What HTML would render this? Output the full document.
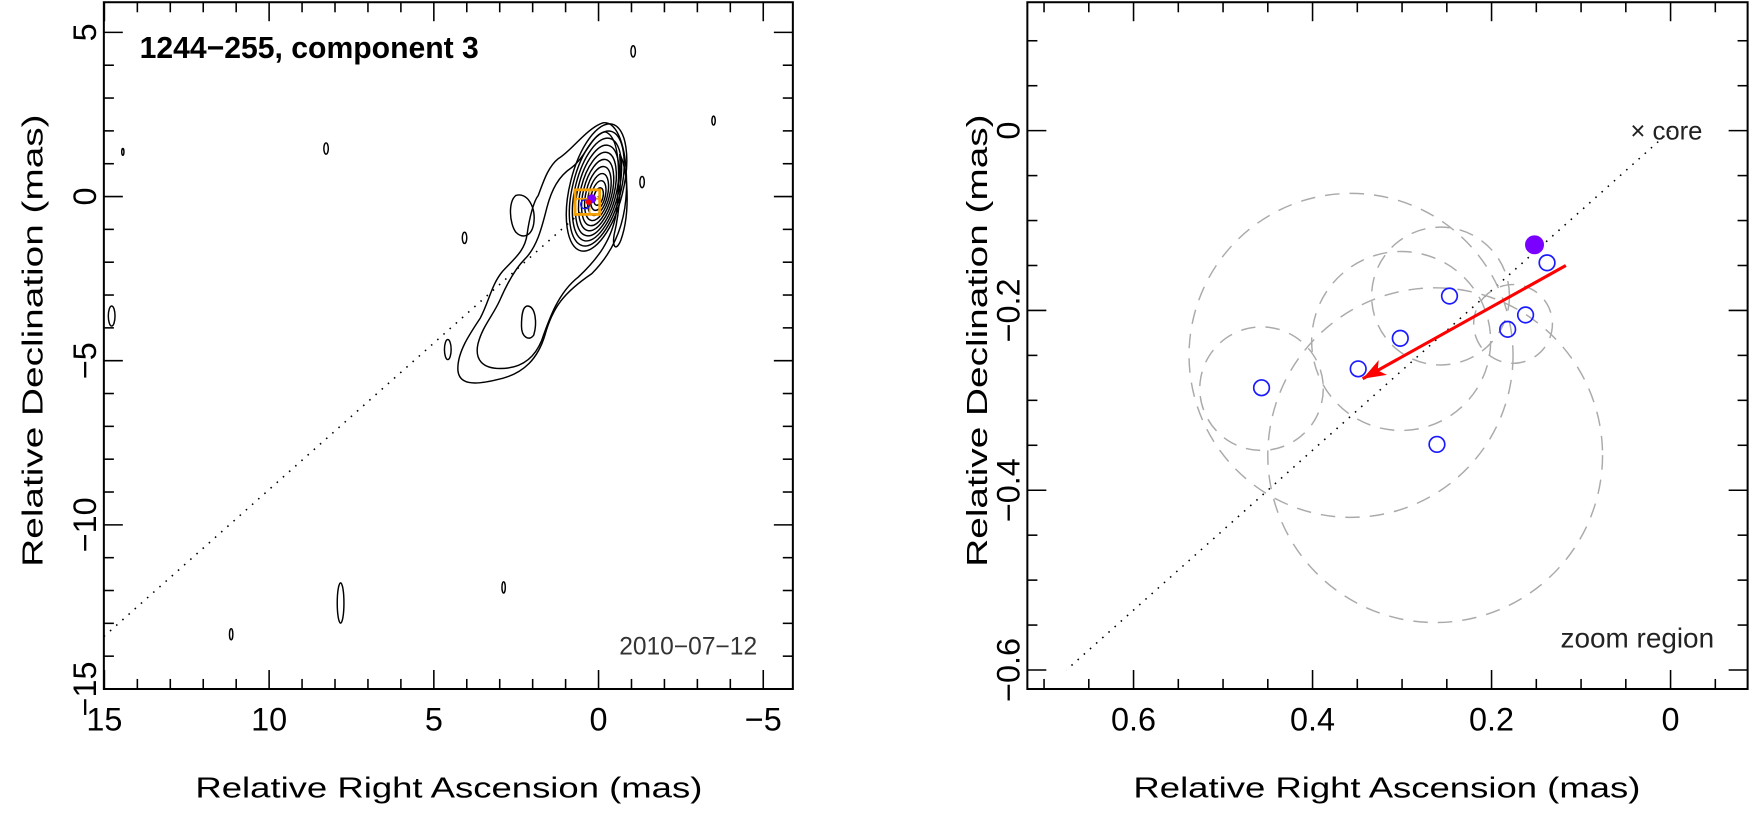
<!DOCTYPE html>
<html><head><meta charset="utf-8"><style>
body{margin:0;background:#fff;overflow:hidden;}
svg text{font-family:"Liberation Sans",sans-serif;}
</style></head><body>
<svg id="chart" width="1751" height="809" viewBox="0 0 1751 809" xmlns="http://www.w3.org/2000/svg">
<g transform="scale(1.11669)">
<g id="left"></g>
<g id="right"></g>
</g>
</svg>
<script>
// Left panel ticks
const leftXTicks=[15,10,5,0,-5];
const leftYTicks=[5,0,-5,-10,-15];
// Right panel data
const rightXTicks=[0.6,0.4,0.2,0];
const rightYTicks=[0,-0.2,-0.4,-0.6];
const compRA=[0.457,0.349,0.302,0.247,0.261,0.182,0.162,0.138];
const compDec=[-0.286,-0.265,-0.231,-0.184,-0.349,-0.221,-0.205,-0.147];
const refRA=[0.152];
const refDec=[-0.127];
const errRA=[0.357,0.263,0.457,0.301,0.257,0.176];
const errDec=[-0.250,-0.361,-0.287,-0.234,-0.184,-0.215];
const errR=[0.181,0.187,0.069,0.100,0.077,0.044];
const arrowRA=[0.117,0.344];
const arrowDec=[-0.150,-0.276];

const NS="http://www.w3.org/2000/svg";
function mk(parent,tag,attrs){const e=document.createElementNS(NS,tag);for(const k in attrs)e.setAttribute(k,attrs[k]);parent.appendChild(e);return e;}

// ---------- LEFT ----------
const L=document.getElementById('left');
const lx=v=>536-v*29.5, ly=v=>176-v*29.4;
let e;
e=mk(L,'rect',{x:93,y:2,width:617,height:615,fill:'none',stroke:'#000','stroke-width':1.8});

for(let v=-5;v<=15;v++){const x=lx(v);if(x<93||x>710)continue;const len=v%5===0?17:9;
 mk(L,'line',{x1:x,y1:617,x2:x,y2:617-len,stroke:'#000','stroke-width':1.4});
 mk(L,'line',{x1:x,y1:2,x2:x,y2:2+len,stroke:'#000','stroke-width':1.4});}
for(let v=-15;v<=5;v++){const y=ly(v);if(y<2||y>617)continue;const len=v%5===0?17:9;
 mk(L,'line',{x1:93,y1:y,x2:93+len,y2:y,stroke:'#000','stroke-width':1.4});
 mk(L,'line',{x1:710,y1:y,x2:710-len,y2:y,stroke:'#000','stroke-width':1.4});}
leftXTicks.forEach(v=>{e=mk(L,'text',{x:lx(v),y:654,'font-size':29,'text-anchor':'middle'});e.textContent=v<0?'\u2212'+(-v):v;
 });
leftYTicks.forEach(v=>{e=mk(L,'text',{x:0,y:0,'font-size':29,'text-anchor':'middle',transform:`translate(86,${ly(v)}) rotate(-90)`});e.textContent=v<0?'\u2212'+(-v):v;
 });
e=mk(L,'text',{x:402,y:714,'font-size':26,'text-anchor':'middle',textLength:454,lengthAdjust:'spacingAndGlyphs'});e.textContent='Relative Right Ascension (mas)';

e=mk(L,'text',{x:0,y:0,'font-size':26,'text-anchor':'middle',textLength:405,lengthAdjust:'spacingAndGlyphs',transform:'translate(38,305) rotate(-90)'});e.textContent='Relative Declination (mas)';

e=mk(L,'text',{x:125,y:52,'font-size':27,'font-weight':'bold'});e.textContent='1244\u2212255, component 3';

e=mk(L,'text',{x:678,y:586,'font-size':22,'text-anchor':'end',fill:'#333'});e.textContent='2010\u221207\u221212';

e=mk(L,'line',{x1:93,y1:570,x2:536,y2:176,stroke:'#000','stroke-width':1.4,'stroke-dasharray':'1.4 6'});

// contours
const cg=mk(L,'g',{fill:'none',stroke:'#000','stroke-width':1.3});

for(let i=0;i<10;i++){const rx=4+i*2.2, ry=8+i*5.6, cx=536-i*0.2, cy=176-i*0.9;
 mk(cg,'ellipse',{cx:cx,cy:cy,rx:rx,ry:ry,transform:`rotate(14 ${cx} ${cy})`});}
mk(cg,'path',{d:'M540 110 C552 108 562 130 561 170 C560 200 550 225 530 245 C505 262 495 275 488 300 C482 320 470 335 445 340 C425 345 410 345 410 330 C410 315 420 300 430 285 C438 270 440 255 450 243 C460 232 470 225 472 210 C474 195 478 180 482 175 C486 165 490 150 500 142 C512 135 525 115 540 110 Z'});
mk(cg,'path',{d:'M542 118 C554 122 556 150 552 190 C548 215 535 232 518 248 C500 262 492 285 485 305 C478 322 465 330 448 330 C432 330 425 322 428 308 C432 292 442 282 448 268 C455 252 462 240 470 232 C482 220 486 200 490 185 C494 170 500 158 512 150 C525 140 530 120 542 118 Z'});
mk(cg,'path',{d:'M462 175 C472 172 480 185 478 200 C476 212 468 214 462 208 C456 200 455 180 462 175 Z'});
mk(cg,'path',{d:'M472 274 C480 274 481 290 478 300 C474 306 467 302 467 292 C467 282 468 275 472 274 Z'});
mk(cg,'path',{d:'M555 138 C562 150 565 190 556 215 C552 225 548 222 550 210 C556 185 556 160 555 138 Z'});
[[567,46,2,5],[575,163,2,5],[639,108,1.5,4],[292,133,2,5],[416,213,2,5],[401,313,3,9],[100,283,3,9],[305,540,3,18],[451,526,1.5,5],[207,568,1.5,5],[110,136,1,3]].forEach(a=>mk(cg,'ellipse',{cx:a[0],cy:a[1],rx:a[2],ry:a[3]}));
e=mk(L,'rect',{x:515,y:170,width:22,height:22,fill:'none',stroke:'#f5a000','stroke-width':2.5});

mk(L,'line',{x1:515,y1:178,x2:537,y2:178,stroke:'#f5a000','stroke-width':1.5});
mk(L,'line',{x1:528,y1:170,x2:528,y2:192,stroke:'#f5a000','stroke-width':1.5});
mk(L,'circle',{cx:530,cy:178,r:4,fill:'#7a00ff'});
mk(L,'circle',{cx:524,cy:183,r:4,fill:'none',stroke:'#1a1aff','stroke-width':1.2});
mk(L,'circle',{cx:527,cy:181,r:2.5,fill:'red'});

// ---------- RIGHT ----------
const R=document.getElementById('right');
const rx=v=>1496-v*801.5, ry=v=>117-v*805;
e=mk(R,'rect',{x:920,y:2,width:645,height:615,fill:'none',stroke:'#000','stroke-width':1.8});

for(let k=-1;k<=14;k++){const v=k*0.05,x=rx(v);if(x<920||x>1565)continue;const len=k%4===0?17:9;
 mk(R,'line',{x1:x,y1:617,x2:x,y2:617-len,stroke:'#000','stroke-width':1.4});
 mk(R,'line',{x1:x,y1:2,x2:x,y2:2+len,stroke:'#000','stroke-width':1.4});}
for(let k=-13;k<=3;k++){const v=k*0.05,y=ry(v);if(y<2||y>617)continue;const len=k%4===0?17:9;
 mk(R,'line',{x1:920,y1:y,x2:920+len,y2:y,stroke:'#000','stroke-width':1.4});
 mk(R,'line',{x1:1565,y1:y,x2:1565-len,y2:y,stroke:'#000','stroke-width':1.4});}
rightXTicks.forEach(v=>{e=mk(R,'text',{x:rx(v),y:654,'font-size':29,'text-anchor':'middle'});e.textContent=v===0?'0':v.toFixed(1);
 });
rightYTicks.forEach(v=>{e=mk(R,'text',{x:0,y:0,'font-size':29,'text-anchor':'middle',transform:`translate(913,${ry(v)}) rotate(-90)`});e.textContent=v===0?'0':'\u2212'+(-v).toFixed(1);
 });
e=mk(R,'text',{x:1242,y:714,'font-size':26,'text-anchor':'middle',textLength:454,lengthAdjust:'spacingAndGlyphs'});e.textContent='Relative Right Ascension (mas)';

e=mk(R,'text',{x:0,y:0,'font-size':26,'text-anchor':'middle',textLength:405,lengthAdjust:'spacingAndGlyphs',transform:'translate(884,305) rotate(-90)'});e.textContent='Relative Declination (mas)';

e=mk(R,'line',{x1:rx(0),y1:ry(0),x2:rx(0.675),y2:ry(-0.6),stroke:'#000','stroke-width':1.4,'stroke-dasharray':'1.4 6'});

e=mk(R,'text',{x:1460,y:125,'font-size':23,fill:'#222'});e.textContent='\u00d7 core';

e=mk(R,'text',{x:1535,y:580,'font-size':25,'text-anchor':'end',fill:'#222'});e.textContent='zoom region';

errRA.forEach((v,i)=>{e=mk(R,'circle',{cx:rx(v),cy:ry(errDec[i]),r:errR[i]*801.5,fill:'none',stroke:'#aaa','stroke-width':1.3,'stroke-dasharray':'13 9'});
 });
compRA.forEach((v,i)=>{e=mk(R,'circle',{cx:rx(v),cy:ry(compDec[i]),r:7,fill:'none',stroke:'#1a1aff','stroke-width':1.5});
 });
refRA.forEach((v,i)=>{e=mk(R,'circle',{cx:rx(v),cy:ry(refDec[i]),r:8.5,fill:'#7a00ff'});
 });
const x1=rx(arrowRA[0]),y1=ry(arrowDec[0]),x2=rx(arrowRA[1]),y2=ry(arrowDec[1]);
e=mk(R,'line',{x1:x1,y1:y1,x2:x2,y2:y2,stroke:'red','stroke-width':2.8});

const ang=Math.atan2(y2-y1,x2-x1),hl=22,hw=0.35;
e=mk(R,'polygon',{points:`${x2},${y2} ${x2-hl*Math.cos(ang-hw)},${y2-hl*Math.sin(ang-hw)} ${x2-hl*0.7*Math.cos(ang)},${y2-hl*0.7*Math.sin(ang)} ${x2-hl*Math.cos(ang+hw)},${y2-hl*Math.sin(ang+hw)}`,fill:'red'});

</script>
</body></html>
